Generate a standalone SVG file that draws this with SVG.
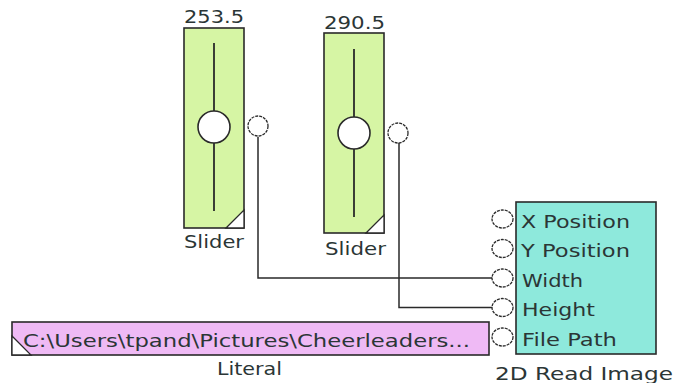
<svg xmlns="http://www.w3.org/2000/svg" width="680" height="383" viewBox="0 0 680 383">
<style>
.t{font-family:"DejaVu Sans",Verdana,sans-serif;font-size:17px;fill:#2b3636}
.box{stroke:#2a2a2a;stroke-width:1.6}
.port{fill:#fff;stroke:#2a2a2a;stroke-width:1.3;stroke-dasharray:3 1}
.wire{fill:none;stroke:#2a2a2a;stroke-width:1.5}
.track{stroke:#2a2a2a;stroke-width:1.8}
.knob{fill:#fff;stroke:#2a2a2a;stroke-width:1.6}
.corner{fill:#fff;stroke:#2a2a2a;stroke-width:1.3}
</style>
<rect width="680" height="383" fill="#fff"/>
<g id="connectors">
<path class="wire" d="M258,137 V278 H492"/>
<path class="wire" d="M399,143 V307.5 H492"/>
</g>
<g id="slider1">
<text class="t" x="184" y="23" textLength="60" lengthAdjust="spacingAndGlyphs">253.5</text>
<rect class="box" x="184" y="28" width="60" height="200" fill="#d6f5a4"/>
<line class="track" x1="214" y1="43" x2="214" y2="211"/>
<circle class="knob" cx="214" cy="127" r="16"/>
<path class="corner" d="M226,228 L244,210 L244,228 Z"/>
<circle class="port" cx="258" cy="126" r="10"/>
<text class="t" x="184" y="248" textLength="60" lengthAdjust="spacingAndGlyphs">Slider</text>
</g>
<g id="slider2">
<text class="t" x="324" y="29" textLength="61" lengthAdjust="spacingAndGlyphs">290.5</text>
<rect class="box" x="324" y="33" width="60" height="200" fill="#d6f5a4"/>
<line class="track" x1="354" y1="49" x2="354" y2="217"/>
<circle class="knob" cx="354" cy="133" r="16"/>
<path class="corner" d="M366,233 L384,215 L384,233 Z"/>
<circle class="port" cx="398" cy="133" r="10"/>
<text class="t" x="325" y="255" textLength="61" lengthAdjust="spacingAndGlyphs">Slider</text>
</g>
<g id="literal">
<rect class="box" x="12" y="322" width="477" height="33" fill="#efbaf5"/>
<path class="corner" d="M12,336 L31,355 L12,355 Z"/>
<text class="t" x="23" y="347" style="font-size:18px" textLength="447" lengthAdjust="spacingAndGlyphs">C:\Users\tpand\Pictures\Cheerleaders...</text>
<text class="t" x="217" y="375" textLength="65" lengthAdjust="spacingAndGlyphs">Literal</text>
</g>
<g id="readimage">
<rect class="box" x="516" y="202" width="140" height="152" fill="#8ee9dc"/>
<ellipse class="port" cx="502.5" cy="219" rx="10.5" ry="9"/>
<ellipse class="port" cx="502.5" cy="248.5" rx="10.5" ry="9"/>
<ellipse class="port" cx="502.5" cy="278" rx="10.5" ry="9"/>
<ellipse class="port" cx="502.5" cy="307.5" rx="10.5" ry="9"/>
<ellipse class="port" cx="502.5" cy="337" rx="10.5" ry="9"/>
<text class="t" x="521" y="228" textLength="109" lengthAdjust="spacingAndGlyphs">X Position</text>
<text class="t" x="521" y="257" textLength="109" lengthAdjust="spacingAndGlyphs">Y Position</text>
<text class="t" x="522" y="287" textLength="61" lengthAdjust="spacingAndGlyphs">Width</text>
<text class="t" x="522" y="316" textLength="73" lengthAdjust="spacingAndGlyphs">Height</text>
<text class="t" x="522" y="346" textLength="95" lengthAdjust="spacingAndGlyphs">File Path</text>
<text class="t" x="495" y="380" textLength="178" lengthAdjust="spacingAndGlyphs">2D Read Image</text>
</g>
</svg>
